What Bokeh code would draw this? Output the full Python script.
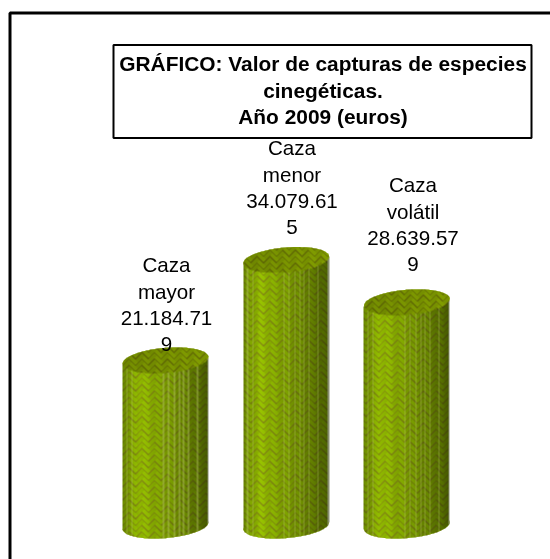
import numpy as np
from bokeh.plotting import figure
from bokeh.core.properties import value as fv
from bokeh.embed import file_html
from bokeh.resources import INLINE

# ---- data
categories = ["Caza mayor", "Caza menor", "Caza volátil"]
values = [21184719, 34079615, 28639579]
label_lines = [
    ["Caza", "mayor", "21.184.71", "9"],
    ["Caza", "menor", "34.079.61", "5"],
    ["Caza", "volátil", "28.639.57", "9"],
]
title_lines = ["GRÁFICO: Valor de capturas de especies", "cinegéticas.", "Año 2009 (euros)"]

# ---- layout
W, H = 550, 559
BASE_PX = 525.0          # pixel row of value 0
PX_PER_EURO = 7.79e-6
CX0, STEP = 165.0, 120.7 # pixel centre of first cylinder, spacing
A, B = 43.0, 12.5        # ellipse half axes, px
SLOPE = 0.085            # tilt of ellipses

y_top = BASE_PX / PX_PER_EURO
y_bot = (BASE_PX - H) / PX_PER_EURO
x_start = -CX0 / STEP
x_end = (W - CX0) / STEP

def X(px):
    return x_start + np.asarray(px, dtype=float) / STEP
def Y(py):
    return (BASE_PX - np.asarray(py, dtype=float)) / PX_PER_EURO

p = figure(width=W, height=H, x_range=(x_start, x_end), y_range=(y_bot, y_top),
           output_backend="svg", toolbar_location=None, min_border=0,
           background_fill_color="white", border_fill_color="white",
           styles={"position": "fixed", "left": "0px", "top": "0px"})
p.axis.visible = False
p.grid.visible = False
p.outline_line_color = None

FONT = fv("Liberation Sans")

# ---- outer frame
p.line(X([9.5, 9.5, W + 5]), Y([H + 5, 12.5, 12.5]), line_color="black", line_width=3)

# ---- herringbone texture
def texture(xx, yy):
    s = 6.4
    a = (xx + yy) / s
    b = (xx - yy) / s
    i, j = np.floor(a), np.floor(b)
    fa, fb = a - i, b - j
    warp = np.mod(i + j, 4) < 2
    gap = np.where(warp, fb < 0.2, fa < 0.2)
    return warp, gap

def ell_inside(xx, yy, cx, cy):
    dx, dy = xx - cx, yy - cy
    th = np.arctan(SLOPE)
    u = dx * np.cos(th) - dy * np.sin(th)
    v = dx * np.sin(th) + dy * np.cos(th)
    return (u / A) ** 2 + (v / B) ** 2 <= 1.0

def ell_pts(cx, cy, t):
    th = np.arctan(SLOPE)
    u, v = A * np.cos(t), B * np.sin(t)
    return cx + u * np.cos(th) + v * np.sin(th), cy - u * np.sin(th) + v * np.cos(th)

STRIPES = [0.05, 0.11, 0.477, 0.535, 0.605, 0.663, 0.71, 0.767, 0.872]

def profile(t):
    return np.interp(t, [0, 0.04, 0.2, 0.35, 0.55, 0.8, 1.0], [0.8, 0.9, 1.14, 1.04, 0.92, 0.74, 0.56])

for i, v in enumerate(values):
    cx = CX0 + STEP * i
    cy_top = BASE_PX - v * PX_PER_EURO
    cy_bot = BASE_PX
    x0, x1 = int(cx - A - 2), int(cx + A + 3)
    y0, y1 = int(cy_top - B - 6), int(cy_bot + B + 7)
    xs = np.arange(x0, x1) + 0.5
    ys = np.arange(y0, y1) + 0.5
    xx, yy = np.meshgrid(xs, ys)
    t = np.clip((xx - (cx - A)) / (2 * A), 0, 1)
    line = cy_top - SLOPE * (xx - cx)
    in_top = ell_inside(xx, yy, cx, cy_top)
    in_bot = ell_inside(xx, yy, cx, cy_bot)
    side = (np.abs(xx - cx) <= A) & ((yy >= line) & ((yy <= cy_bot - SLOPE * (xx - cx)) | in_bot))
    warp, gap = texture(xx, yy)
    rgb = np.zeros(xx.shape + (3,))
    prof = profile(t)
    col = np.where(warp[..., None], np.array([134.0, 172.0, 0.0]), np.array([126.0, 160.0, 0.0]))
    col = np.where(gap[..., None], np.array([118.0, 126.0, 16.0]), col) * prof[..., None]
    for s in STRIPES:
        m = np.abs(t - s) * 2 * A < 0.6
        col[m] = col[m] * 0.65 + np.array([195.0, 205.0, 120.0]) * 0.35
    edge = (cx + A - xx) < 1.5
    col[edge] = np.array([135.0, 142.0, 110.0])
    rgb[side] = col[side]
    tprof = np.interp(t, [0, 0.5, 1], [0.9, 0.95, 1.0])
    tcol = np.where(warp[..., None], np.array([130.0, 158.0, 0.0]), np.array([122.0, 148.0, 0.0]))
    tcol = np.where(gap[..., None], np.array([102.0, 112.0, 6.0]), tcol) * tprof[..., None]
    rgb[in_top] = tcol[in_top]
    alpha = ((side | in_top) * 255).astype(np.uint8)

    # silhouette, then texture
    tt = np.linspace(0, np.pi, 60)
    bx, by = ell_pts(cx, cy_bot, tt)
    ux, uy = ell_pts(cx, cy_top, tt + np.pi)
    p.patch(X(np.r_[bx[::-1], ux]), Y(np.r_[by[::-1], uy]), fill_color="#7f9c00", line_color=None)

    img = np.zeros(xx.shape, dtype=np.uint32)
    view = img.view(dtype=np.uint8).reshape(xx.shape + (4,))
    view[..., :3] = np.clip(rgb, 0, 255).astype(np.uint8)
    view[..., 3] = alpha
    p.image_rgba(image=[img[::-1]], x=[float(X(x0))], y=[float(Y(y1))],
                 dw=[(x1 - x0) / STEP], dh=[(y1 - y0) / PX_PER_EURO])

# ---- data labels
LABEL_DX = [166.0, 291.5, 412.5]
LABEL_GAP = [16.0, 33.0, 38.0]
LINE_H = 26.5
for i, (v, lines) in enumerate(zip(values, label_lines)):
    last = BASE_PX - v * PX_PER_EURO - LABEL_GAP[i]
    n = len(lines)
    py = [last - LINE_H * (n - 1 - k) for k in range(n)]
    p.text(X([LABEL_DX[i]] * n), Y(py), text=lines, text_align="center", text_baseline="middle",
           text_font=FONT, text_font_size="20.6px", text_color="black")

# ---- title box
p.quad(left=[float(X(113))], right=[float(X(531))], top=[float(Y(44.5))], bottom=[float(Y(137.5))],
       fill_color="white", line_color="black", line_width=2)
p.text(X([322.5] * 3), Y([62.5, 89.5, 116]), text=title_lines, text_align="center", text_baseline="middle",
       text_font=FONT, text_font_style="bold", text_font_size="20.9px", text_color="black")

open("out.html", "w").write(file_html(p, INLINE))
